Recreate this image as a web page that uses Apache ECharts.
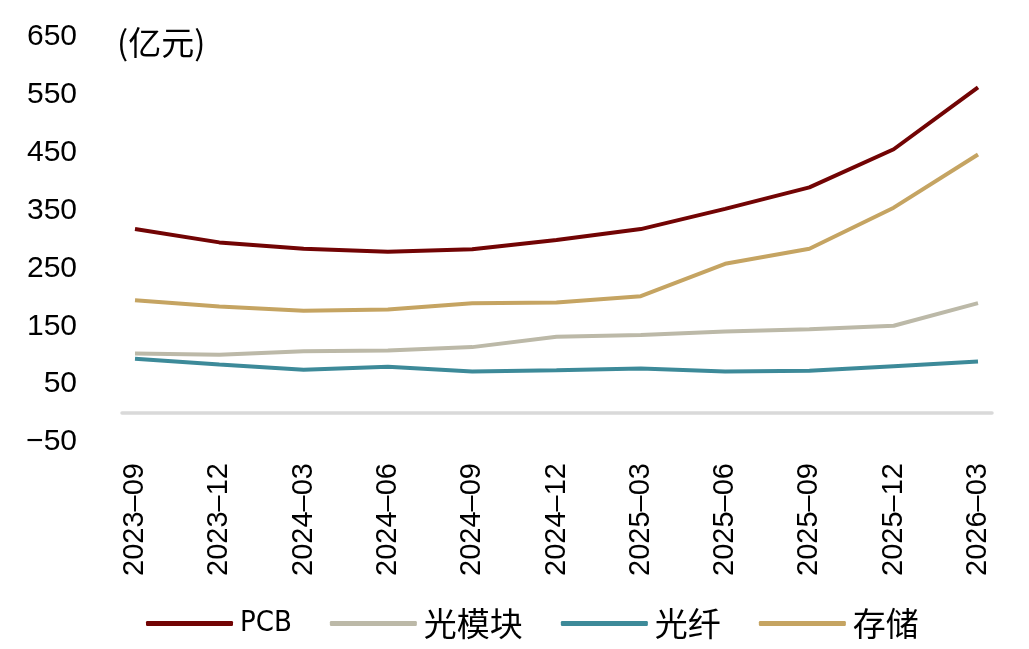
<!DOCTYPE html>
<html>
<head>
<meta charset="utf-8">
<script src="https://cdn.jsdelivr.net/npm/echarts@6/dist/echarts.min.js"></script>
<style>
  html, body { margin: 0; padding: 0; background: #fff; }
  #chart { width: 1029px; height: 649px; }
</style>
</head>
<body>
<div id="chart"></div>
<script>
// 季度
var categories = ['2023-09', '2023-12', '2024-03', '2024-06', '2024-09', '2024-12',
                  '2025-03', '2025-06', '2025-09', '2025-12', '2026-03'];
// 亿元
var pcb     = [318, 295, 284, 279, 283, 299, 318, 353, 390, 456, 563];
var optical = [103, 101, 107, 108, 114, 132, 135, 141, 145, 151, 190];
var fiber   = [94, 84, 75, 80, 72, 74, 77, 72, 73, 81, 89];
var storage = [195, 184, 177, 179, 190, 191, 202, 258, 284, 355, 447];
var yMin = -50, yMax = 650, yStep = 100;

var latin = "'Liberation Sans', Arial, sans-serif";
var cjk = "'Noto Sans CJK SC', sans-serif";
var narrow = "'Liberation Sans Narrow', 'DejaVu Sans Condensed', 'Noto Sans CJK SC', sans-serif";

var myChart = echarts.init(document.getElementById('chart'));

function lineSeries(name, data, color) {
    return {
        name: name,
        type: 'line',
        data: data,
        symbol: 'none',
        smooth: false,
        lineStyle: { color: color, width: 4 },
        itemStyle: { color: color }
    };
}

var option = {
    backgroundColor: '#fff',
    animation: false,
    title: {
        text: '(亿元)',
        left: 112,
        top: 21,
        textStyle: { fontFamily: cjk, fontSize: 33, fontWeight: 'normal', color: '#000' }
    },
    legend: {
        left: 141,
        top: 602,
        itemWidth: 87,
        itemHeight: 5,
        itemGap: 38,
        icon: 'roundRect',
        data: [
            { name: 'PCB', textStyle: { fontFamily: narrow, fontSize: 29 } },
            '光模块', '光纤', '存储'
        ],
        textStyle: {
            fontFamily: cjk,
            fontSize: 33,
            color: '#000',
            padding: [0, 0, 0, 2]
        }
    },
    grid: [
        { left: 135, right: 51, top: 37, bottom: 207 },
        { left: 122, right: 37, top: 37, bottom: 207 }
    ],
    xAxis: [
        {
            type: 'category',
            gridIndex: 0,
            data: categories,
            boundaryGap: false,
            axisLine: { show: false, onZero: false },
            axisTick: { show: false },
            splitLine: { show: false },
            axisLabel: {
                interval: 0,
                rotate: 90,
                margin: 21,
                fontFamily: latin,
                fontSize: 29,
                color: '#000',
                formatter: function (v) { return v.replace('-', '\u2013'); }
            }
        },
        {
            type: 'value',
            gridIndex: 1,
            min: 0,
            max: 1,
            axisLine: { show: true, onZero: true, lineStyle: { color: '#D9D9D9', width: 3.5 } },
            axisTick: { show: false },
            axisLabel: { show: false },
            splitLine: { show: false }
        }
    ],
    yAxis: [
        {
            type: 'value',
            gridIndex: 0,
            min: yMin,
            max: yMax,
            interval: yStep,
            axisLine: { show: false },
            axisTick: { show: false },
            splitLine: { show: false },
            axisLabel: {
                margin: 58,
                fontFamily: latin,
                fontSize: 30,
                color: '#000',
                formatter: function (v) { return v < 0 ? '\u2212' + Math.abs(v) : String(v); }
            }
        },
        {
            type: 'value',
            gridIndex: 1,
            min: yMin,
            max: yMax,
            show: false
        }
    ],
    series: [
        lineSeries('PCB', pcb, '#720404'),
        lineSeries('光模块', optical, '#BCB9A8'),
        lineSeries('光纤', fiber, '#3D8A99'),
        lineSeries('存储', storage, '#C5A462')
    ]
};

myChart.setOption(option);
window.onresize = function () {
    myChart.resize();
};
</script>
</body>
</html>
